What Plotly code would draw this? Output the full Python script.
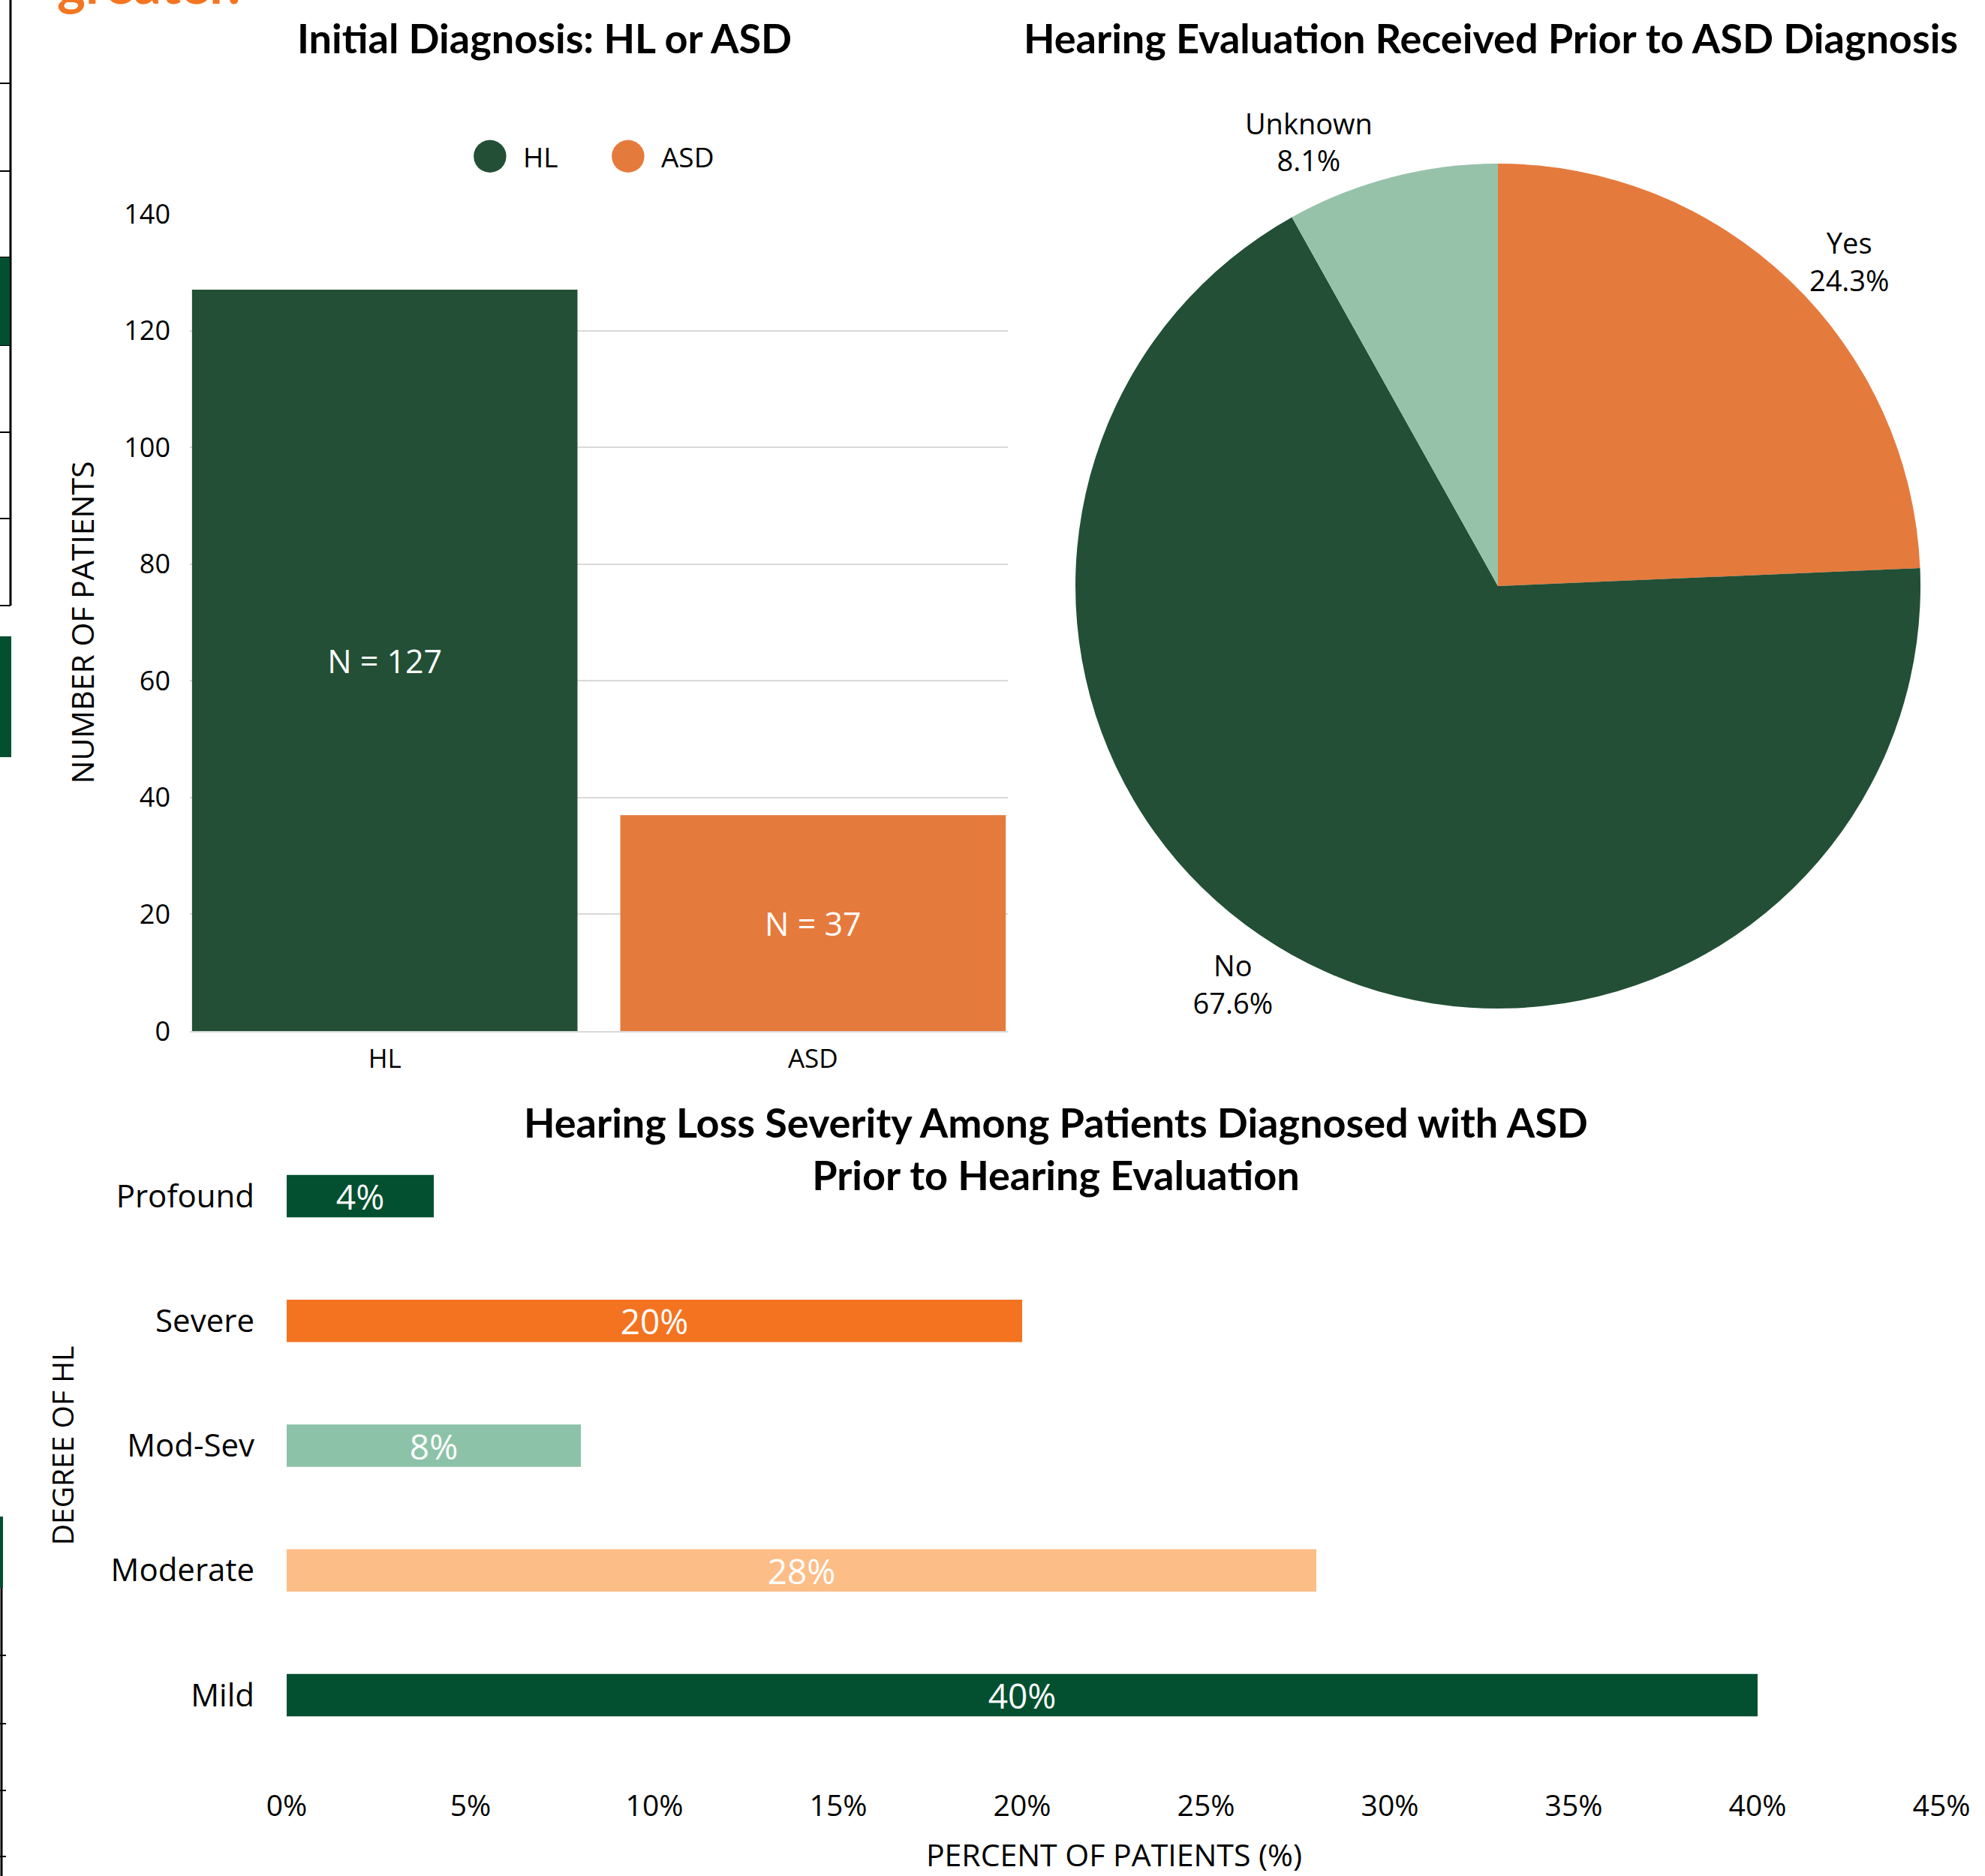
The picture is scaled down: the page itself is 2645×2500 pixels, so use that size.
import plotly.graph_objects as go

W, H = 2645, 2500

# ---------------- data ----------------
diag_categories = ["HL", "ASD"]
diag_counts = [127, 37]
diag_colors = ["#224F35", "#E57A3D"]
diag_yticks = [0, 20, 40, 60, 80, 100, 120, 140]

eval_labels = ["Yes", "No", "Unknown"]
eval_counts = [9, 25, 3]
eval_colors = ["#E57A3D", "#224F35", "#97C2AA"]

severity_levels = ["Mild", "Moderate", "Mod-Sev", "Severe", "Profound"]
severity_pct = [40, 28, 8, 20, 4]
severity_colors = ["#035030", "#FDBD87", "#8CC3A8", "#F37321", "#035030"]
pct_ticks = [0, 5, 10, 15, 20, 25, 30, 35, 40, 45]
pct_ticktext = ["0%", "5%", "10%", "15%", "20%", "25%", "30%", "35%", "40%", "45%"]

FONT = "Open Sans"
TFONT = "Lato"


def px_x(p):
    return p / W


def px_y(p):
    return 1 - p / H


fig = go.Figure()

# Bar chart: Initial diagnosis
fig.add_trace(go.Bar(
    x=diag_categories, y=diag_counts,
    marker=dict(color=diag_colors, line=dict(width=0)),
    width=0.9,
    texttemplate="N = %{y}", textposition="inside", insidetextanchor="middle",
    textfont=dict(family=FONT, size=43, color="white"),
    constraintext="none",
    showlegend=False, hoverinfo="x+y",
    xaxis="x", yaxis="y",
))

# Pie chart: hearing evaluation prior to ASD diagnosis
fig.add_trace(go.Pie(
    labels=eval_labels, values=eval_counts,
    marker=dict(colors=eval_colors, line=dict(width=0)),
    sort=False, direction="clockwise", rotation=0,
    texttemplate="%{label}<br>%{percent:.1%}",
    textposition="outside",
    textfont=dict(family=FONT, size=38, color="black"),
    showlegend=False,
    domain=dict(x=[px_x(1433), px_x(2559)], y=[px_y(1344), px_y(218)]),
))

# Horizontal bar chart: severity
fig.add_trace(go.Bar(
    y=severity_levels, x=severity_pct, orientation="h",
    marker=dict(color=severity_colors, line=dict(width=0)),
    width=0.34,
    text=[f"{v}%" for v in severity_pct], texttemplate="%{text}",
    textposition="inside", insidetextanchor="middle",
    textfont=dict(family=FONT, size=46, color="white"),
    constraintext="none",
    showlegend=False,
    xaxis="x2", yaxis="y2",
))

BULLET = "<span style='font-family:DejaVu Sans;font-size:57px;color:%s'>●</span>  %s"

annotations = [
    dict(text="<b>Initial Diagnosis: HL or ASD</b>", x=px_x(725), y=px_y(51),
         font=dict(family=TFONT, size=54, color="black")),
    dict(text="<b>Hearing Evaluation Received Prior to ASD Diagnosis</b>", x=px_x(1986), y=px_y(51),
         font=dict(family=TFONT, size=54, color="black")),
    dict(text="<b>Hearing Loss Severity Among Patients Diagnosed with ASD<br>Prior to Hearing Evaluation</b>",
         x=px_x(1407), y=px_y(1530),
         font=dict(family=TFONT, size=54, color="black")),
    dict(text=BULLET % (diag_colors[0], diag_categories[0]), x=px_x(626), y=px_y(203), xanchor="left",
         font=dict(family=FONT, size=37, color="black")),
    dict(text=BULLET % (diag_colors[1], diag_categories[1]), x=px_x(810), y=px_y(203), xanchor="left",
         font=dict(family=FONT, size=37, color="black")),
    dict(text="<b>greater.</b>", x=px_x(74), y=px_y(22), xanchor="left", yanchor="bottom",
         font=dict(family=TFONT, size=72, color="#F47521")),
]
for a in annotations:
    a.setdefault("xref", "paper")
    a.setdefault("yref", "paper")
    a.setdefault("xanchor", "center")
    a.setdefault("yanchor", "middle")
    a["showarrow"] = False

# decorative fragments at the left edge (pieces of neighbouring poster table)
shapes = []
line_style = dict(color="black", width=3)
shapes.append(dict(type="line", x0=px_x(14), x1=px_x(14), y0=px_y(0), y1=px_y(807), line=line_style))
for yy in [111, 228, 343, 460, 576, 691, 807]:
    shapes.append(dict(type="line", x0=px_x(0), x1=px_x(14), y0=px_y(yy), y1=px_y(yy), line=dict(color="black", width=2)))
shapes.append(dict(type="rect", x0=px_x(0), x1=px_x(13), y0=px_y(460), y1=px_y(343), fillcolor="#035030", line=dict(width=0)))
shapes.append(dict(type="rect", x0=px_x(0), x1=px_x(15), y0=px_y(1009), y1=px_y(848), fillcolor="#035030", line=dict(width=0)))
shapes.append(dict(type="line", x0=px_x(2), x1=px_x(2), y0=px_y(2021), y1=px_y(2500), line=line_style))
shapes.append(dict(type="rect", x0=px_x(0), x1=px_x(4), y0=px_y(2116), y1=px_y(2021), fillcolor="#035030", line=dict(width=0)))
for yy in [2206, 2297, 2386, 2474]:
    shapes.append(dict(type="line", x0=px_x(0), x1=px_x(8), y0=px_y(yy), y1=px_y(yy), line=dict(color="black", width=2)))
for s in shapes:
    s["xref"] = "paper"
    s["yref"] = "paper"
    s["layer"] = "above"

fig.update_layout(
    template="none",
    width=W, height=H,
    margin=dict(l=0, r=0, t=0, b=0),
    paper_bgcolor="white", plot_bgcolor="white",
    font=dict(family=FONT, size=34, color="black"),
    annotations=annotations,
    shapes=shapes,
    xaxis=dict(
        domain=[px_x(253), px_x(1343)], range=[-0.455, 1.455],
        anchor="y", showgrid=False, zeroline=False,
        showline=True, linecolor="#D9D9D9", linewidth=2,
        ticks="", tickfont=dict(family=FONT, size=35, color="black"),
        ticklabelstandoff=5, automargin=False, fixedrange=True,
    ),
    yaxis=dict(
        domain=[px_y(1374), px_y(285)], range=[0, 140],
        anchor="x", tickvals=diag_yticks,
        showgrid=True, gridcolor="#D9D9D9", gridwidth=2, zeroline=False,
        showline=False, ticks="",
        tickfont=dict(family=FONT, size=36, color="black"),
        ticklabelstandoff=25,
        title=dict(text="NUMBER OF PATIENTS", font=dict(family=FONT, size=41, color="black"), standoff=26),
        automargin=False,
    ),
    xaxis2=dict(
        domain=[px_x(382), px_x(2587)], range=[0, 45],
        anchor="y2", tickvals=pct_ticks, ticktext=pct_ticktext,
        showgrid=False, zeroline=False, showline=False, ticks="",
        tickfont=dict(family=FONT, size=39, color="black"),
        ticklabelstandoff=38,
        title=dict(text="PERCENT OF PATIENTS (%)", font=dict(family=FONT, size=41, color="black"), standoff=28),
        automargin=False,
    ),
    yaxis2=dict(
        domain=[px_y(2342), px_y(1511)], range=[-0.5, 4.5],
        anchor="x2", type="category",
        categoryorder="array", categoryarray=severity_levels,
        showgrid=False, zeroline=False, showline=False, ticks="",
        tickfont=dict(family=FONT, size=42, color="black"),
        ticklabelstandoff=42,
        title=dict(text="DEGREE OF HL", font=dict(family=FONT, size=39, color="black"), standoff=36),
        automargin=False,
    ),
)

fig.write_html("out.html")
